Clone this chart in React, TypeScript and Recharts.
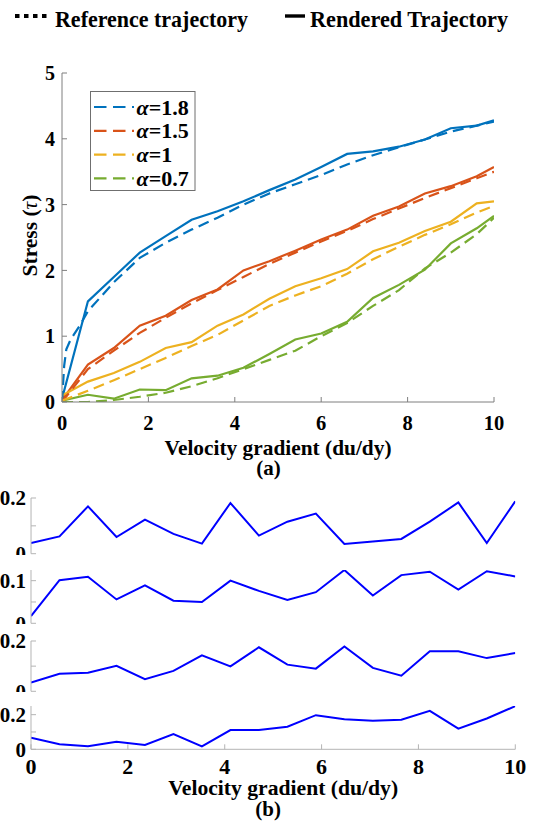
import React from 'react';
import { LineChart, Line, XAxis, YAxis, Legend, Label } from 'recharts';

const FONT = 'Liberation Serif, Tinos, DejaVu Serif, serif';

// Velocity-gradient samples of the rendered trajectories
const GAMMA = [0, 0.6, 1.2, 1.8, 2.4, 3, 3.6, 4.2, 4.8, 5.4, 6, 6.6, 7.2, 7.8, 8.4, 9, 9.6, 10];
// The α=1.8 reference curve rises steeply, so it has extra samples near the origin
const GAMMA_REF_18 = [0, 0.05, 0.1, 0.2, 0.4, 0.6, 1.2, 1.8, 2.4, 3, 3.6, 4.2, 4.8, 5.4, 6, 6.6, 7.2, 7.8, 8.4, 9, 9.6, 10];

const ALPHAS = ['1.8', '1.5', '1', '0.7'];
const COLORS = ['#0072BD', '#D95319', '#EDB120', '#77AC30'];

const RENDERED_18 = [0.05, 1.53, 1.9, 2.27, 2.52, 2.77, 2.9, 3.05, 3.22, 3.38, 3.57, 3.77, 3.81, 3.88, 3.99, 4.16, 4.2, 4.28];
const REFERENCE_18 = [0, 0.55, 0.8, 0.95, 1.15, 1.38, 1.82, 2.19, 2.42, 2.62, 2.8, 3.0, 3.17, 3.31, 3.45, 3.61, 3.75, 3.87, 3.99, 4.11, 4.2, 4.26];

const RENDERED_15 = [0.03, 0.57, 0.82, 1.16, 1.31, 1.55, 1.71, 2.0, 2.14, 2.3, 2.47, 2.62, 2.83, 2.97, 3.17, 3.28, 3.43, 3.57];
const REFERENCE_15 = [0, 0.5, 0.78, 1.05, 1.28, 1.5, 1.7, 1.9, 2.1, 2.27, 2.44, 2.6, 2.78, 2.94, 3.1, 3.25, 3.4, 3.5];

const RENDERED_10 = [0.1, 0.31, 0.44, 0.61, 0.82, 0.91, 1.16, 1.33, 1.57, 1.76, 1.88, 2.02, 2.29, 2.42, 2.6, 2.74, 3.02, 3.05];
const REFERENCE_10 = [0.02, 0.17, 0.33, 0.5, 0.67, 0.85, 1.02, 1.24, 1.46, 1.62, 1.76, 1.95, 2.17, 2.36, 2.54, 2.7, 2.88, 2.98];

const RENDERED_07 = [0.02, 0.11, 0.05, 0.19, 0.18, 0.36, 0.4, 0.52, 0.73, 0.95, 1.04, 1.22, 1.58, 1.78, 2.01, 2.41, 2.64, 2.83];
const REFERENCE_07 = [0, 0, 0.03, 0.08, 0.14, 0.24, 0.36, 0.5, 0.64, 0.78, 1.0, 1.2, 1.46, 1.7, 2.03, 2.27, 2.55, 2.8];

// Tracking error between rendered and reference stress, one panel per α
const ERR_GAMMA = [0, 0.588, 1.176, 1.765, 2.353, 2.941, 3.529, 4.118, 4.706, 5.294, 5.882, 6.471, 7.059, 7.647, 8.235, 8.824, 9.412, 10];
const ERR_18 = [0.038, 0.062, 0.17, 0.06, 0.122, 0.071, 0.036, 0.182, 0.065, 0.115, 0.144, 0.035, 0.044, 0.053, 0.115, 0.184, 0.038, 0.188];
const ERR_15 = [0.017, 0.101, 0.109, 0.056, 0.089, 0.053, 0.05, 0.1, 0.076, 0.055, 0.073, 0.125, 0.065, 0.113, 0.121, 0.079, 0.122, 0.11];
const ERR_10 = [0.035, 0.07, 0.074, 0.101, 0.048, 0.081, 0.143, 0.099, 0.175, 0.106, 0.09, 0.178, 0.093, 0.062, 0.159, 0.159, 0.132, 0.152];
const ERR_07 = [0.067, 0.029, 0.017, 0.044, 0.025, 0.088, 0.017, 0.111, 0.111, 0.13, 0.197, 0.174, 0.165, 0.171, 0.222, 0.119, 0.178, 0.249];

const X_TICKS = [0, 2, 4, 6, 8, 10];
const STRESS_TICKS = [0, 1, 2, 3, 4, 5];

const X_LABEL = 'Velocity gradient (du/dy)';
const LEGEND_REF = 'Reference trajectory';
const LEGEND_REN = 'Rendered Trajectory';

const toRows = (xs: number[], ys: number[]) => xs.map((x, i) => ({ x, v: ys[i] }));

const SERIES = [
  { alpha: ALPHAS[0], color: COLORS[0], ref: toRows(GAMMA_REF_18, REFERENCE_18), ren: toRows(GAMMA, RENDERED_18) },
  { alpha: ALPHAS[1], color: COLORS[1], ref: toRows(GAMMA, REFERENCE_15), ren: toRows(GAMMA, RENDERED_15) },
  { alpha: ALPHAS[2], color: COLORS[2], ref: toRows(GAMMA, REFERENCE_10), ren: toRows(GAMMA, RENDERED_10) },
  { alpha: ALPHAS[3], color: COLORS[3], ref: toRows(GAMMA, REFERENCE_07), ren: toRows(GAMMA, RENDERED_07) },
];

const PANELS = [
  { rows: toRows(ERR_GAMMA, ERR_18), max: 0.2, ticks: [0, 0.1, 0.2], labeled: [0, 0.2] },
  { rows: toRows(ERR_GAMMA, ERR_15), max: 0.125, ticks: [0, 0.05, 0.1], labeled: [0, 0.1] },
  { rows: toRows(ERR_GAMMA, ERR_10), max: 0.2, ticks: [0, 0.1, 0.2], labeled: [0, 0.2] },
  { rows: toRows(ERR_GAMMA, ERR_07), max: 0.25, ticks: [0, 0.1, 0.2], labeled: [0, 0.2] },
];

const DASH = '11 6';
const TOP_AXIS = '#7f7f7f';
const ERR_AXIS = '#b4b4b4';

const NoTick = () => <g />;

const tickFont = (size: number) => ({ fill: '#000', fontSize: size, fontWeight: 700, fontFamily: FONT, style: { fontFamily: FONT } });

const textStyle = { fontFamily: FONT, fontWeight: 700 } as const;

function LegendArt() {
  return (
    <svg width={539} height={200} style={{ display: 'block' }}>
      {/* figure-level key */}
      <line x1={15} y1={16} x2={47} y2={16} stroke="#000" strokeWidth={4} strokeDasharray="4.5 4.5" />
      <text x={55} y={27} fontSize={22.5} fill="#000" style={textStyle} textLength={193} lengthAdjust="spacingAndGlyphs">{LEGEND_REF}</text>
      <line x1={285} y1={16} x2={305} y2={16} stroke="#000" strokeWidth={3.4} />
      <text x={310} y={27} fontSize={22.5} fill="#000" style={textStyle} textLength={198} lengthAdjust="spacingAndGlyphs">{LEGEND_REN}</text>
      {/* α key inside the stress axes */}
      <rect x={90.5} y={91.5} width={104.5} height={99} fill="#fff" stroke="#6f6f6f" strokeWidth={1} />
      {SERIES.map((s, i) => {
        const cy = 107 + i * 23.8;
        return (
          <g key={s.alpha}>
            <line x1={94} y1={cy} x2={134} y2={cy} stroke={s.color} strokeWidth={2.2} strokeDasharray="12.5 6.5" />
            <text x={136.5} y={cy + 7.5} fontSize={22} fill="#000" style={textStyle}>
              <tspan fontStyle="italic">α</tspan>={s.alpha}
            </text>
          </g>
        );
      })}
    </svg>
  );
}

function StressChart() {
  return (
    <LineChart width={539} height={480} margin={{ top: 73, right: 45, bottom: 48, left: 0 }}>
      <XAxis
        xAxisId="b"
        type="number"
        dataKey="x"
        domain={[0, 10]}
        ticks={X_TICKS}
        interval={0}
        height={30}
        stroke={TOP_AXIS}
        tickSize={-5}
        tickMargin={18}
        tick={tickFont(20.5)}
        allowDataOverflow
      >
        <Label
          content={(p: any) => {
            const vb = p.viewBox || { x: 62, y: 402, width: 432 };
            const cx = vb.x + vb.width / 2;
            return (
              <g>
                <text x={cx} y={vb.y + 53} textAnchor="middle" fontSize={22} fill="#000" style={textStyle} textLength={227} lengthAdjust="spacingAndGlyphs">{X_LABEL}</text>
                <text x={cx - 9.5} y={vb.y + 72.5} textAnchor="middle" fontSize={21} fill="#000" style={textStyle}>(a)</text>
              </g>
            );
          }}
        />
      </XAxis>
      <XAxis xAxisId="t" orientation="top" type="number" domain={[0, 10]} ticks={X_TICKS} interval={0} height={0} stroke={TOP_AXIS} tickSize={-5} tick={NoTick} allowDataOverflow />
      <YAxis
        yAxisId="l"
        type="number"
        domain={[0, 5]}
        ticks={STRESS_TICKS}
        interval={0}
        width={62}
        stroke={TOP_AXIS}
        tickSize={-5}
        tickMargin={12}
        tick={tickFont(20)}
        allowDataOverflow
      >
        <Label
          content={(p: any) => {
            const vb = p.viewBox || { x: 0, y: 73, height: 329 };
            const x = vb.x + 36.5;
            const y = vb.y + vb.height / 2 - 2;
            return (
              <text x={x} y={y} transform={`rotate(-90 ${x} ${y})`} textAnchor="middle" fontSize={21.5} fill="#000" style={textStyle}>
                Stress (<tspan fontStyle="italic" fontWeight={400}>τ</tspan>)
              </text>
            );
          }}
        />
      </YAxis>
      <YAxis yAxisId="r" orientation="right" type="number" domain={[0, 5]} ticks={STRESS_TICKS} interval={0} width={0} stroke={TOP_AXIS} tickSize={-5} tick={NoTick} allowDataOverflow />
      {SERIES.map((s) => (
        <Line
          key={`ren-${s.alpha}`}
          data={s.ren}
          dataKey="v"
          xAxisId="b"
          yAxisId="l"
          type="linear"
          stroke={s.color}
          strokeWidth={2.2}
          dot={false}
          activeDot={false}
          isAnimationActive={false}
        />
      ))}
      {SERIES.map((s) => (
        <Line
          key={`ref-${s.alpha}`}
          data={s.ref}
          dataKey="v"
          xAxisId="b"
          yAxisId="l"
          type="linear"
          stroke={s.color}
          strokeWidth={2.2}
          strokeDasharray={DASH}
          dot={false}
          activeDot={false}
          isAnimationActive={false}
        />
      ))}
      <Legend
        verticalAlign="middle"
        align="center"
        layout="horizontal"
        wrapperStyle={{ left: 0, top: 0, width: 539, height: 200, pointerEvents: 'none' }}
        content={() => <LegendArt />}
      />
    </LineChart>
  );
}

// Plot-area placement of the four error panels (top edge and height of each axes box)
const PANEL_BOX = [
  { top: 498.3, h: 55.7 },
  { top: 570, h: 53.3 },
  { top: 640.7, h: 50.3 },
  { top: 705.7, h: 43.3 },
];

function ErrorPanel({ idx }: { idx: number }) {
  const p = PANELS[idx];
  const box = PANEL_BOX[idx];
  const last = idx === PANELS.length - 1;
  const padTop = 12;
  const axisH = last ? 824 - (box.top + box.h) : 0;
  const height = padTop + box.h + (last ? axisH : 1);
  return (
    <div style={{ position: 'absolute', left: 0, top: box.top - padTop }}>
      <LineChart width={539} height={height} margin={{ top: padTop, right: 23.7, bottom: last ? 0 : 1, left: 0 }}>
        <XAxis
          xAxisId="b"
          type="number"
          dataKey="x"
          domain={[0, 10]}
          ticks={X_TICKS}
          interval={0}
          height={axisH}
          stroke={ERR_AXIS}
          tickSize={-5}
          tickMargin={14}
          tick={last ? tickFont(22) : NoTick}
          allowDataOverflow
        >
          {last && (
            <Label
              content={(lp: any) => {
                const vb = lp.viewBox || { x: 31, y: 749, width: 484 };
                const cx = vb.x + vb.width / 2;
                return (
                  <g>
                    <text x={cx + 10} y={vb.y + 46} textAnchor="middle" fontSize={22} fill="#000" style={textStyle} textLength={230} lengthAdjust="spacingAndGlyphs">{X_LABEL}</text>
                    <text x={cx - 5} y={vb.y + 67} textAnchor="middle" fontSize={21} fill="#000" style={textStyle}>(b)</text>
                  </g>
                );
              }}
            />
          )}
        </XAxis>
        <XAxis xAxisId="t" orientation="top" type="number" domain={[0, 10]} ticks={X_TICKS} interval={0} height={0} stroke={ERR_AXIS} tickSize={-5} tick={NoTick} allowDataOverflow />
        <YAxis
          yAxisId="l"
          type="number"
          domain={[0, p.max]}
          ticks={p.ticks}
          interval={0}
          width={31}
          stroke={ERR_AXIS}
          tickSize={-5}
          tickMargin={10}
          tick={tickFont(21)}
          tickFormatter={(v: number) => (p.labeled.includes(v) ? String(v) : '')}
          allowDataOverflow
        />
        <YAxis yAxisId="r" orientation="right" type="number" domain={[0, p.max]} ticks={p.ticks} interval={0} width={0} stroke={ERR_AXIS} tickSize={-5} tick={NoTick} allowDataOverflow />
        <Line
          data={p.rows}
          dataKey="v"
          xAxisId="b"
          yAxisId="l"
          type="linear"
          stroke="#0000ff"
          strokeWidth={2}
          dot={false}
          activeDot={false}
          isAnimationActive={false}
        />
      </LineChart>
    </div>
  );
}

export default function App() {
  return (
    <div style={{ position: 'absolute', left: 0, top: 0, width: 539, height: 824, background: '#fff' }}>
      <div style={{ position: 'absolute', left: 0, top: 0 }}>
        <StressChart />
      </div>
      {PANELS.map((_, i) => (
        <ErrorPanel key={i} idx={i} />
      ))}
    </div>
  );
}
